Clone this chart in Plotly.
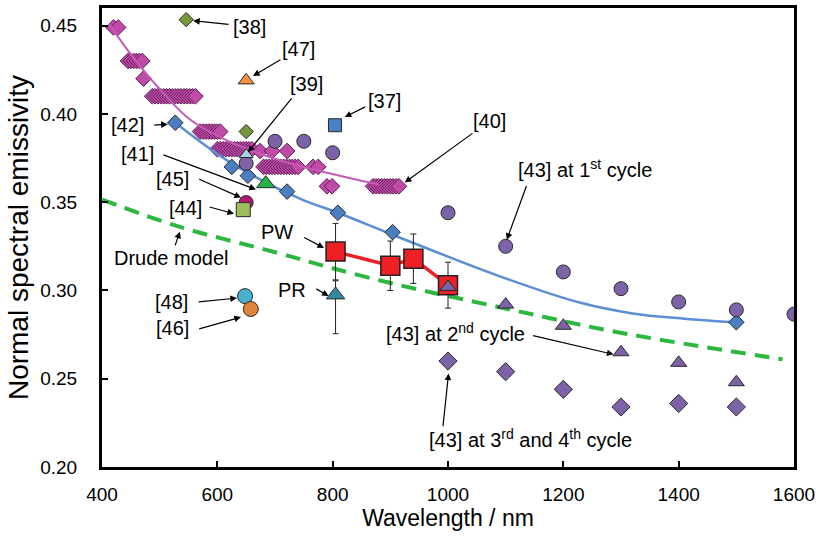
import plotly.graph_objects as go

FONT = "Liberation Sans, Arial, Helvetica, sans-serif"

# ---------------- data ----------------
# [40] magenta diamonds
x40 = [420, 428,
       445, 450, 455, 460, 465, 470,
       472,
       487, 492, 497, 502, 507, 512, 517, 522, 527, 532, 537, 542, 547, 552, 557, 562,
       570, 575, 580, 585, 590, 595, 600, 605,
       600, 605, 610, 615, 620, 625, 630, 635, 640, 645, 650, 655, 660,
       674, 695, 721,
       680, 685, 690, 695, 700, 705, 710, 715, 720, 725, 730, 735, 740,
       766, 775,
       790, 799,
       870, 875, 880, 885, 890, 895, 900, 905, 910, 915]
y40 = [0.449, 0.449,
       0.430, 0.430, 0.430, 0.430, 0.430, 0.430,
       0.420,
       0.410, 0.410, 0.410, 0.410, 0.410, 0.410, 0.410, 0.410, 0.410, 0.410, 0.410, 0.410, 0.410, 0.410, 0.410, 0.410,
       0.390, 0.390, 0.390, 0.390, 0.390, 0.390, 0.390, 0.390,
       0.380, 0.380, 0.380, 0.380, 0.380, 0.380, 0.380, 0.380, 0.380, 0.380, 0.380, 0.380, 0.380,
       0.379, 0.379, 0.379,
       0.370, 0.370, 0.370, 0.370, 0.370, 0.370, 0.370, 0.370, 0.370, 0.370, 0.370, 0.370, 0.370,
       0.370, 0.370,
       0.359, 0.359,
       0.359, 0.359, 0.359, 0.359, 0.359, 0.359, 0.359, 0.359, 0.359, 0.359]
# [40] trend curve
x40_fit = [412, 461, 514, 552, 610, 669, 726, 812, 880]
y40_fit = [0.451, 0.429, 0.409, 0.397, 0.386, 0.378, 0.372, 0.365, 0.360]

# [42] blue diamonds and trend curve
x42 = [527, 625, 653, 721, 809, 904, 1500]
y42 = [0.395, 0.370, 0.365, 0.356, 0.344, 0.333, 0.282]
x42_fit = [527, 625, 743, 809, 916, 1090, 1230, 1320, 1410, 1493]
y42_fit = [0.395, 0.372, 0.352, 0.344, 0.330, 0.308, 0.293, 0.287, 0.284, 0.282]

# [43] cycles
x43_1 = [650, 700, 750, 800, 1000, 1100, 1200, 1300, 1400, 1500, 1600]
y43_1 = [0.372, 0.3845, 0.3845, 0.378, 0.344, 0.325, 0.3105, 0.301, 0.2935, 0.289, 0.2866]
x43_2 = [1000, 1100, 1200, 1300, 1400, 1500]
y43_2 = [0.302, 0.292, 0.280, 0.265, 0.259, 0.248]
x43_34 = [1000, 1100, 1200, 1300, 1400, 1500]
y43_34 = [0.260, 0.254, 0.244, 0.234, 0.236, 0.234]

# Drude model
x_drude = [400, 535, 708, 795, 916, 1090, 1292, 1580]
y_drude = [0.3515, 0.336, 0.321, 0.313, 0.303, 0.2905, 0.2765, 0.261]

# PW (present work) and PR
x_pw = [805, 900, 940, 1000]
y_pw = [0.322, 0.314, 0.318, 0.303]
e_pw = [0.016, 0.014, 0.014, 0.013]
x_pr = [805]
y_pr = [0.2975]
e_pr_plus = [0.008]
e_pr_minus = [0.022]

# single literature points
x38 = [546, 650]; y38 = [0.4534, 0.390]
x47 = [650]; y47 = [0.419]
x37 = [804]; y37 = [0.3936]
x39 = [650]; y39 = [0.377]
x41 = [684]; y41 = [0.3605]
x45 = [650]; y45 = [0.3498]
x44 = [645]; y44 = [0.3458]
x48 = [648]; y48 = [0.2968]
x46 = [658]; y46 = [0.2895]

EDGE = dict(color="#2a2a2a", width=1)

fig = go.Figure()

def add_line(x, y, color, width, dash=None, shape="spline"):
    fig.add_trace(go.Scatter(x=x, y=y, mode="lines", line=dict(color=color, width=width, dash=dash, shape=shape),
                             hoverinfo="skip"))

def add_pts(x, y, symbol, size, color, edge=EDGE):
    fig.add_trace(go.Scatter(x=x, y=y, mode="markers",
                             marker=dict(symbol=symbol, size=size, color=color, line=edge)))

add_line(x_drude, y_drude, "#2cb83e", 4, dash="15px,9px")
add_pts(x40, y40, "diamond", 12, "#c04aa8", dict(color="#5e1f55", width=1))
add_line(x40_fit, y40_fit, "#c65ab8", 2)
add_line(x42_fit, y42_fit, "#5b8fd3", 2.5)
add_pts(x42, y42, "diamond", 12, "#4a7fc4")
add_pts(x43_1, y43_1, "circle", 14, "#7e62a8")
add_pts(x43_34, y43_34, "diamond", 14, "#7e62a8")
add_pts(x38, y38, "diamond", 11, "#77973c")
add_pts(x47, y47, "triangle-up", 14, "#f5923e")
add_pts(x37, y37, "square", 13, "#4a7fc4")
add_pts(x39, y39, "triangle-up", 12, "#a8d2e6")
add_pts(x41, y41, "triangle-up", 16, "#25b24a")
add_pts(x45, y45, "circle", 14, "#b0196c")
add_pts(x44, y44, "square", 14, "#9cbd5a")
add_pts(x48, y48, "circle", 15, "#48b0cd")
add_pts(x46, y46, "circle", 15, "#e0843c")

# PR
fig.add_trace(go.Scatter(x=x_pr, y=y_pr, mode="markers",
                         marker=dict(symbol="triangle-up", size=16, color="#2f8aa2", line=EDGE),
                         error_y=dict(type="data", symmetric=False, array=e_pr_plus, arrayminus=e_pr_minus,
                                      color="#222", thickness=1, width=3)))
# PW
fig.add_trace(go.Scatter(x=x_pw, y=y_pw, mode="lines+markers",
                         line=dict(color="#ee1f25", width=3.5),
                         marker=dict(symbol="square", size=19, color="#ee2025", line=dict(color="#222", width=1.5)),
                         error_y=dict(type="data", array=e_pw, color="#222", thickness=1, width=3)))
add_pts(x43_2, y43_2, "triangle-up", 14, "#7e62a8")

# ---------------- annotations ----------------
labels = [
    ("[38]", 656, 0.4494),
    ("[47]", 741, 0.4369),
    ("[39]", 755, 0.4170),
    ("[37]", 890, 0.4073),
    ("[40]", 1072, 0.3959),
    ("[42]", 445, 0.3936),
    ("[41]", 462, 0.3771),
    ("[45]", 523, 0.3629),
    ("[44]", 544, 0.3469),
    ("Drude model", 521, 0.3185),
    ("[48]", 521, 0.2934),
    ("[46]", 523, 0.2786),
    ("PW", 703, 0.3333),
    ("PR", 729, 0.3002),
    ("[43] at 1<sup>st</sup> cycle", 1237, 0.3691),
    ("[43] at 2<sup>nd</sup> cycle", 1013, 0.2763),
    ("[43] at 3<sup>rd</sup> and 4<sup>th</sup> cycle", 1143, 0.2159),
]
arrows = [  # (tail x, tail y, head x, head y)
    (622, 0.4506, 558, 0.4528),
    (712, 0.4312, 662, 0.4215),
    (731, 0.4096, 653, 0.3783),
    (859, 0.4044, 821, 0.3982),
    (1045, 0.3896, 925, 0.3612),
    (488, 0.3936, 514, 0.3942),
    (504, 0.3771, 667, 0.3572),
    (566, 0.3634, 641, 0.3526),
    (584, 0.3475, 629, 0.3435),
    (526, 0.3247, 535, 0.3333),
    (565, 0.2934, 634, 0.2957),
    (566, 0.2780, 641, 0.2849),
    (748, 0.3304, 785, 0.3241),
    (769, 0.3014, 793, 0.2968),
    (1137, 0.3600, 1102, 0.3287),
    (1145, 0.2746, 1287, 0.2638),
    (991, 0.2222, 1001, 0.2530),
]
annos = []
for t, x, y in labels:
    annos.append(dict(x=x, y=y, text=t, showarrow=False, xanchor="center", yanchor="middle",
                      font=dict(family=FONT, size=20, color="black")))
for tx, ty, hx, hy in arrows:
    annos.append(dict(x=hx, y=hy, ax=tx, ay=ty, axref="x", ayref="y", text="", showarrow=True,
                      arrowhead=2, arrowsize=1.1, arrowwidth=1.2, arrowcolor="black", standoff=0))

fig.update_layout(
    width=816, height=539,
    margin=dict(l=102, r=22, t=8, b=72),
    paper_bgcolor="white", plot_bgcolor="white",
    showlegend=False,
    font=dict(family=FONT, size=19, color="black"),
    annotations=annos,
)
fig.update_xaxes(range=[400, 1600], tickvals=[400, 600, 800, 1000, 1200, 1400, 1600],
                 ticks="inside", ticklen=6, tickwidth=1.5, tickcolor="black",
                 showline=True, linewidth=3, linecolor="black", mirror=True,
                 showgrid=False, zeroline=False, ticklabelstandoff=8,
                 automargin=False, ticklabeloverflow="allow",
                 title=dict(text="Wavelength / nm", font=dict(size=23), standoff=6))
fig.update_yaxes(range=[0.2, 0.46], tickvals=[0.20, 0.25, 0.30, 0.35, 0.40, 0.45], tickformat=".2f",
                 ticks="inside", ticklen=6, tickwidth=1.5, tickcolor="black",
                 showline=True, linewidth=3, linecolor="black", mirror=True,
                 showgrid=False, zeroline=False, ticklabelstandoff=18,
                 automargin=False, ticklabeloverflow="allow",
                 title=dict(text="Normal spectral emissivity", font=dict(size=28), standoff=4))

fig.write_html("out.html")
